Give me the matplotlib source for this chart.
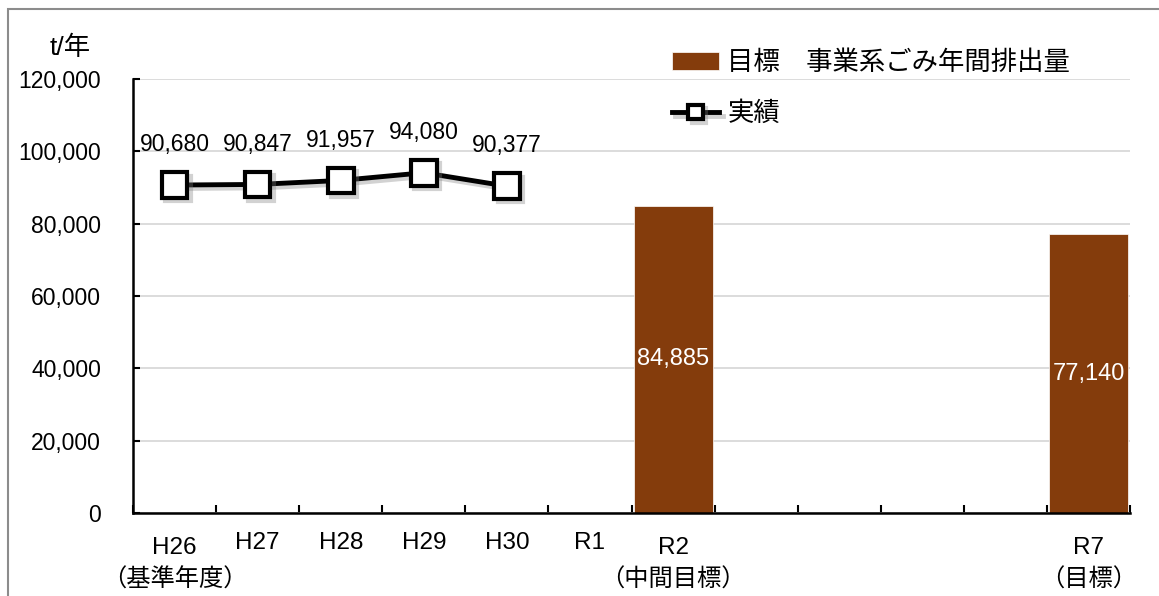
import matplotlib
matplotlib.use("Agg")
import matplotlib.pyplot as plt
import matplotlib.patheffects as pe
import matplotlib.transforms as mtransforms
from matplotlib.patches import Rectangle
import numpy as np

plt.rcParams["font.family"] = ["Liberation Sans", "Noto Sans CJK JP", "DejaVu Sans"]

# fiscal years on the x axis (R3..R6 have no label)
years = ["H26", "H27", "H28", "H29", "H30", "R1", "R2", "", "", "", "", "R7"]
# second-line notes under some years
note_idx = [0, 6, 11]
notes = ["（基準年度）", "（中間目標）", "（目標）"]
# actual business waste emissions, t/year (H26..H30)
actual = [90680, 90847, 91957, 94080, 90377]
# targets: R2 interim target and R7 target
target_idx = [6, 11]
target = [84885, 77140]

bar_color = "#843C0C"

fig = plt.figure(figsize=(11.59, 5.96), dpi=100)
ax = fig.add_axes([133 / 1159, 1 - 513 / 596, (1130 - 133) / 1159, (513 - 79) / 596])

x = np.arange(len(years))

bars = ax.bar(target_idx, target, width=0.95, color=bar_color, edgecolor="white",
              linewidth=0.5, zorder=2, label="目標　事業系ごみ年間排出量")
ax.bar_label(bars, labels=[f"{v:,}" for v in target], label_type="center",
             color="white", fontsize=17)

line, = ax.plot(x[:len(actual)], actual, color="black", linewidth=3.5,
                marker="s", markersize=18.5, markerfacecolor="white",
                markeredgecolor="black", markeredgewidth=3, zorder=3, label="実績",
                path_effects=[pe.SimpleLineShadow(offset=(2.5, -2.5), shadow_color="gray", alpha=0.35),
                              pe.Normal()])
for xi, v in zip(x, actual):
    ax.annotate(f"{v:,}", (xi, v), textcoords="offset points", xytext=(0, 29),
                ha="center", va="center", fontsize=16.5)

ax.set_xlim(-0.5, len(years) - 0.5)
ax.set_ylim(0, 120000)
ax.set_yticks(np.arange(0, 120001, 20000))
ax.set_yticklabels([f"{v:,}" for v in range(0, 120001, 20000)], fontsize=16.5)
ax.tick_params(axis="y", direction="in", length=5, width=1.5, pad=23)

ax.set_xticks(x)
ax.set_xticklabels(years, fontsize=17.5)
ax.tick_params(axis="x", which="major", length=0, pad=14)
ax.set_xticks(np.arange(-0.5, len(years), 1), minor=True)
ax.tick_params(axis="x", which="minor", direction="in", length=6, width=1.5)

# years with a note underneath sit a little lower than the others
shift = mtransforms.ScaledTranslation(0, -5 / 100, fig.dpi_scale_trans)
for i, lbl in enumerate(ax.get_xticklabels()):
    if i in note_idx:
        lbl.set_transform(lbl.get_transform() + shift)
for i, note in zip(note_idx, notes):
    ax.annotate(note, (i, 0), xycoords=ax.get_xaxis_transform(), textcoords="offset points",
                xytext=(0, -48), ha="center", va="center", fontsize=17.5, annotation_clip=False)

ax.grid(axis="y", color="#d9d9d9", linewidth=1.3, zorder=0)
ax.set_axisbelow(True)
for side in ("top", "right"):
    ax.spines[side].set_visible(False)
for side in ("left", "bottom"):
    ax.spines[side].set_linewidth(1.8)

fig.text(70 / 1159, 1 - 48 / 596, "t/年", ha="center", va="center", fontsize=19)

ax.legend(handles=[bars, line], loc="upper left", bbox_to_anchor=(648 / 1159, 1 - 27 / 596),
          bbox_transform=fig.transFigure, frameon=False, fontsize=19,
          handlelength=1.8, handletextpad=0.3, labelspacing=1.0, markerscale=0.55)

# outer frame around the chart area
fig.add_artist(Rectangle((8 / 1159, -0.05), 1.1, 1.05 - 9 / 596, transform=fig.transFigure,
                         fill=False, edgecolor="#8c8c8c", linewidth=1.5))

fig.savefig("out.png", dpi=100)
